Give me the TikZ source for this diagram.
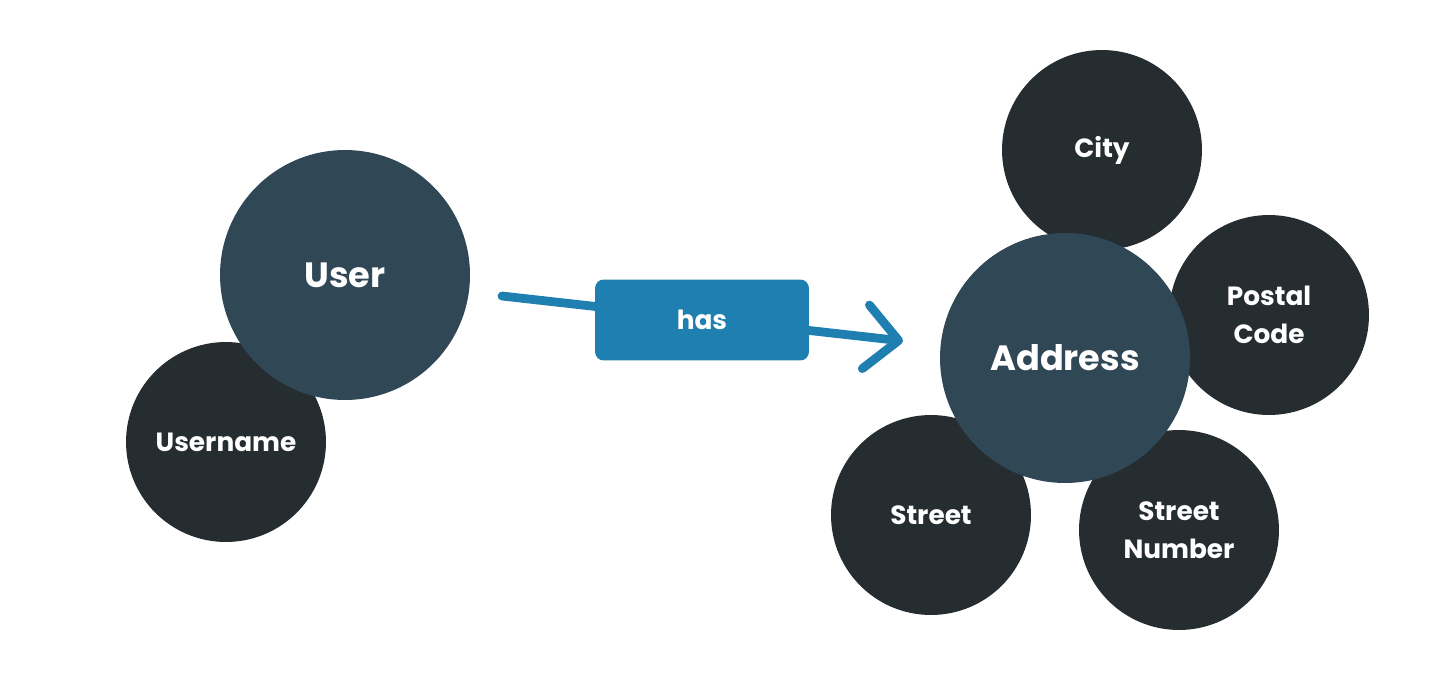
\documentclass[tikz,border=0pt]{standalone}
\usepackage{fontspec}
\setmainfont{Poppins}
\usetikzlibrary{arrows.meta}
\definecolor{entityc}{RGB}{48,71,86}
\definecolor{attrc}{RGB}{38,45,49}
\definecolor{relc}{RGB}{31,127,176}
\tikzset{
  entity/.style={circle, fill=entityc, text=white, minimum size=5cm, inner sep=0pt,
    align=center, font=\fontsize{20}{24}\selectfont\bfseries},
  attr/.style={circle, fill=attrc, text=white, minimum size=4cm, inner sep=0pt,
    align=center, font=\fontsize{15}{21.5}\selectfont\bfseries},
  rel/.style={rectangle, rounded corners=5pt, fill=relc, text=white,
    minimum width=4.28cm, minimum height=1.62cm, font=\fontsize{15}{18}\selectfont\bfseries},
  link/.style={draw=relc, line width=5pt, line cap=round,
    -{Straight Barb[length=0.66cm, width=1.28cm, round]}},
}

\begin{document}
\begin{tikzpicture}[x=0.02cm, y=-0.02cm]
  \useasboundingbox (0,0) rectangle (1440,690);

  % attributes sit behind the entities
  \node[attr] (username) at (226,442) {Username};
  \node[attr] (city) at (1102,150) {City};
  \node[attr] (postal) at (1269,315) {Postal\\Code};
  \node[attr] (street) at (931,515) {Street};
  \node[attr] (number) at (1179,530) {Street\\Number};

  \node[entity] (user) at (345,275) {User};
  \node[entity] (address) at (1065,358) {Address};

  % the relation
  \coordinate (from) at (502,296);
  \coordinate (to) at (903,341);
  \draw[link] (from) -- (to);
  \node[rel] (has) at (702,320) {has};

\end{tikzpicture}
\end{document}
